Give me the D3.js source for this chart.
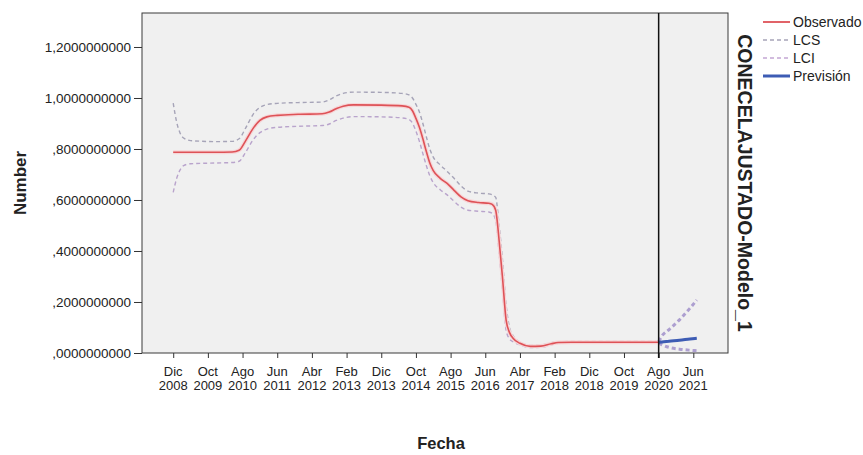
<!DOCTYPE html>
<html lang="es">
<head>
<meta charset="utf-8">
<title>CONECELAJUSTADO-Modelo_1</title>
<script src="https://cdn.jsdelivr.net/npm/d3@7"></script>
<style>
  body { margin: 0; background: #fff; }
  svg { display: block; font-family: "Liberation Sans", Arial, sans-serif; }
</style>
</head>
<body>
<div id="chart"></div>
<script>
// months counted from Dic 2008 (= 0)
var months = [0, 1, 2, 3, 5, 12, 17, 19, 21, 23, 25, 27, 30, 36, 43, 45, 47, 49, 52, 60,
  66, 68, 69, 70, 71, 72, 73, 74, 75, 77, 79, 81, 83, 85, 88, 91, 92, 93, 94, 95,
  96, 97, 98, 100, 103, 106, 109, 111, 115, 125, 135, 140];

var observado = [0.787, 0.787, 0.787, 0.787, 0.787, 0.787, 0.788, 0.795, 0.835, 0.880, 0.912, 0.926, 0.932, 0.936, 0.938, 0.945, 0.958, 0.968, 0.973, 0.972,
  0.969, 0.964, 0.950, 0.920, 0.885, 0.840, 0.790, 0.745, 0.715, 0.685, 0.665, 0.638, 0.612, 0.597, 0.590, 0.587, 0.583, 0.560, 0.440, 0.290,
  0.130, 0.080, 0.058, 0.038, 0.026, 0.027, 0.036, 0.041, 0.042, 0.042, 0.042, 0.042];

var lcs = [0.980, 0.905, 0.862, 0.843, 0.833, 0.829, 0.830, 0.840, 0.885, 0.935, 0.963, 0.974, 0.979, 0.982, 0.984, 0.993, 1.008, 1.018, 1.023, 1.022,
  1.018, 1.012, 1.000, 0.975, 0.945, 0.900, 0.848, 0.800, 0.768, 0.738, 0.712, 0.685, 0.655, 0.635, 0.627, 0.624, 0.620, 0.610, 0.500, 0.360,
  0.190, 0.100, 0.068, 0.043, 0.030, 0.031, 0.040, 0.044, 0.045, 0.045, 0.045, 0.045];

var lci = [0.630, 0.685, 0.718, 0.735, 0.742, 0.745, 0.747, 0.752, 0.790, 0.835, 0.864, 0.878, 0.885, 0.889, 0.892, 0.898, 0.912, 0.921, 0.927, 0.926,
  0.922, 0.916, 0.902, 0.870, 0.830, 0.782, 0.735, 0.695, 0.668, 0.640, 0.620, 0.595, 0.572, 0.560, 0.556, 0.553, 0.548, 0.520, 0.390, 0.240,
  0.090, 0.055, 0.044, 0.032, 0.021, 0.022, 0.032, 0.038, 0.039, 0.039, 0.039, 0.039];

// forecast period
var fcMonths = [140, 141, 143, 146, 149, 151];
var prevision = [0.042, 0.043, 0.046, 0.050, 0.055, 0.058];
var fcLcs = [0.045, 0.068, 0.092, 0.130, 0.175, 0.208];
var fcLci = [0.039, 0.032, 0.022, 0.015, 0.011, 0.009];

var tickMonths = [0, 10, 20, 30, 40, 50, 60, 70, 80, 90, 100, 110, 120, 130, 140, 150];
var tickMes = ["Dic", "Oct", "Ago", "Jun", "Abr", "Feb", "Dic", "Oct", "Ago", "Jun", "Abr", "Feb", "Dic", "Oct", "Ago", "Jun"];
var tickAnio = ["2008", "2009", "2010", "2011", "2012", "2013", "2013", "2014", "2015", "2016", "2017", "2018", "2018", "2019", "2020", "2021"];
var yTicks = [0, 0.2, 0.4, 0.6, 0.8, 1.0, 1.2];
var forecastStart = 140;

var W = 863, H = 455;
var plot = {left: 142, top: 13, right: 728, bottom: 353};

var svg = d3.select("#chart").append("svg")
  .attr("width", W).attr("height", H);

var x = d3.scaleLinear().domain([-9, 160]).range([plot.left, plot.right]);
var y = d3.scaleLinear().domain([0, 1.3333]).range([plot.bottom, plot.top]);

svg.append("rect")
  .attr("x", plot.left).attr("y", plot.top)
  .attr("width", plot.right - plot.left).attr("height", plot.bottom - plot.top)
  .attr("fill", "#f0f0f0")
  .attr("stroke", "#3a3a3a").attr("stroke-width", 1);

// y axis
var fmt = function(v) { return d3.format(".10f")(v).replace(".", ",").replace(/^0,/, ","); };
var yAxis = svg.append("g")
  .attr("transform", "translate(" + plot.left + ",0)")
  .call(d3.axisLeft(y).tickValues(yTicks).tickFormat(fmt).tickSize(8).tickSizeOuter(0));
yAxis.select(".domain").remove();
yAxis.selectAll("line").attr("stroke", "#333");
yAxis.selectAll("text")
  .attr("font-family", "Liberation Sans, Arial, sans-serif")
  .attr("font-size", "13.5px").attr("fill", "#222").attr("x", -11);

// x axis
var xAxis = svg.append("g")
  .attr("transform", "translate(0," + plot.bottom + ")")
  .call(d3.axisBottom(x).tickValues(tickMonths).tickFormat("").tickSize(5).tickSizeOuter(0));
xAxis.select(".domain").remove();
xAxis.selectAll("line").attr("stroke", "#333");

var xlab = svg.append("g")
  .attr("text-anchor", "middle")
  .attr("font-size", "13px").attr("fill", "#222");
xlab.selectAll("text.mes")
  .data(tickMonths).enter().append("text")
  .attr("class", "mes")
  .attr("x", function(d) { return x(d); }).attr("y", 376)
  .text(function(d, i) { return tickMes[i]; });
xlab.selectAll("text.anio")
  .data(tickMonths).enter().append("text")
  .attr("class", "anio")
  .attr("x", function(d) { return x(d); }).attr("y", 390)
  .text(function(d, i) { return tickAnio[i]; });

// lines
var line = function(ms, vals) {
  return d3.line().curve(d3.curveMonotoneX)
    .x(function(d, i) { return x(ms[i]); })
    .y(function(d) { return y(d); })(vals);
};

svg.append("path").attr("d", line(months, lcs))
  .attr("fill", "none").attr("stroke", "#a6a4b8").attr("stroke-width", 1.4)
  .attr("stroke-dasharray", "4,3");
svg.append("path").attr("d", line(months, lci))
  .attr("fill", "none").attr("stroke", "#b9a4cc").attr("stroke-width", 1.4)
  .attr("stroke-dasharray", "4,3");

svg.append("path").attr("d", line(months, observado))
  .attr("fill", "none").attr("stroke", "#f6d6d8").attr("stroke-width", 4);
svg.append("path").attr("d", line(months, observado))
  .attr("fill", "none").attr("stroke", "#de5257").attr("stroke-width", 1.6);

// forecast
svg.append("path").attr("d", line(fcMonths, fcLcs))
  .attr("fill", "none").attr("stroke", "#ad9fd0").attr("stroke-width", 3)
  .attr("stroke-dasharray", "4,3");
svg.append("path").attr("d", line(fcMonths, fcLci))
  .attr("fill", "none").attr("stroke", "#ad9fd0").attr("stroke-width", 3)
  .attr("stroke-dasharray", "4,3");
svg.append("path").attr("d", line(fcMonths, prevision))
  .attr("fill", "none").attr("stroke", "#3d5cb4").attr("stroke-width", 3);

// forecast start reference line
svg.append("line")
  .attr("x1", x(forecastStart)).attr("x2", x(forecastStart))
  .attr("y1", plot.top).attr("y2", plot.bottom + 5)
  .attr("stroke", "#111").attr("stroke-width", 1.5);

// axis titles
svg.append("text")
  .attr("transform", "translate(26,183) rotate(-90)")
  .attr("text-anchor", "middle")
  .attr("font-size", "17px").attr("font-weight", "bold").attr("fill", "#222")
  .text("Number");

svg.append("text")
  .attr("x", 441).attr("y", 449)
  .attr("text-anchor", "middle")
  .attr("font-size", "16.5px").attr("font-weight", "bold").attr("fill", "#222")
  .text("Fecha");

svg.append("text")
  .attr("transform", "translate(738,183) rotate(90)")
  .attr("text-anchor", "middle")
  .attr("font-size", "19.5px").attr("font-weight", "bold").attr("fill", "#222")
  .text("CONECELAJUSTADO-Modelo_1");

// legend
var legendNames = ["Observado", "LCS", "LCI", "Previsión"];
var legendColors = ["#de5257", "#a6a4b8", "#c4a6d4", "#3d5cb4"];
var legendDash = [null, "4,3", "4,3", null];
var legendWidth = [1.8, 1.4, 1.4, 3];

var lg = svg.append("g").selectAll("g")
  .data(legendNames).enter().append("g")
  .attr("transform", function(d, i) { return "translate(763," + (22 + i * 18) + ")"; });
lg.append("line")
  .attr("x1", 0).attr("x2", 27)
  .attr("stroke", function(d, i) { return legendColors[i]; })
  .attr("stroke-width", function(d, i) { return legendWidth[i]; })
  .attr("stroke-dasharray", function(d, i) { return legendDash[i]; });
lg.append("text")
  .attr("x", 30).attr("dy", "0.35em")
  .attr("font-size", "14px").attr("fill", "#222")
  .text(function(d) { return d; });
</script>
</body>
</html>
